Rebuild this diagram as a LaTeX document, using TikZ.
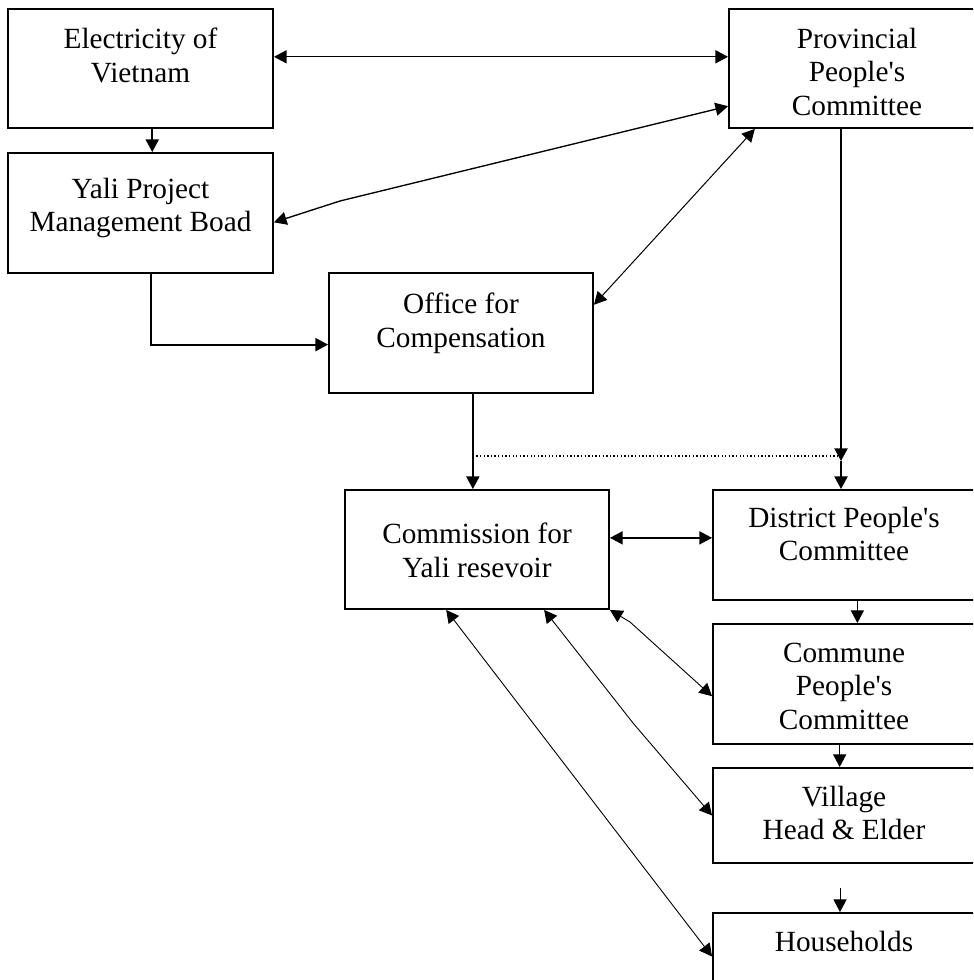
\documentclass[tikz,border=0pt]{standalone}
\usepackage{fontspec}
\setmainfont{Liberation Serif}
\usetikzlibrary{arrows.meta,fit}

\tikzset{
  box/.style={draw, line width=0.85pt, inner sep=0pt},
  lbl/.style={align=center, inner sep=0pt, anchor=north, font=\fontsize{13}{14.9}\selectfont},
  tip/.style={-{Triangle[length=5.6pt,width=5.8pt]}},
  both/.style={{Triangle[length=5.6pt,width=5.8pt]}-{Triangle[length=5.6pt,width=5.8pt]}},
  heavy/.style={line width=0.85pt},
  light/.style={line width=0.45pt},
}

\begin{document}
\begin{tikzpicture}[x=0.444pt,y=-0.444pt]
\useasboundingbox (0,0) rectangle (973,980);
\clip (0,0) rectangle (973,980);

% boxes
\node[box, fit={(8,9) (273,128)}] (evn) {};
\node[box, fit={(8,153) (273,273)}] (ypmb) {};
\node[box, fit={(729,9) (990,128)}] (prov) {};
\node[box, fit={(329,273) (593,393)}] (office) {};
\node[box, fit={(345,490) (609,609)}] (comm) {};
\node[box, fit={(713,490) (990,600)}] (dist) {};
\node[box, fit={(713,624) (990,744)}] (commune) {};
\node[box, fit={(713,768) (990,863)}] (village) {};
\node[box, fit={(713,913) (990,1000)}] (house) {};

\node[lbl] (evnT) at (140.5,27.5) {Electricity of\\Vietnam};
\node[lbl] (ypmbT) at (140.5,177.5) {Yali Project\\Management Boad};
\node[lbl] (provT) at (857,27.5) {Provincial\\People\textquotesingle s\\Committee};
\node[lbl] (officeT) at (461,292.5) {Office for\\Compensation};
\node[lbl] (commT) at (477,522.5) {Commission for\\Yali resevoir};
\node[lbl] (distT) at (844,506.5) {District People\textquotesingle s\\Committee};
\node[lbl] (communeT) at (844,642.5) {Commune\\People\textquotesingle s\\Committee};
\node[lbl] (villageT) at (844,785.5) {Village\\Head \& Elder};
\node[lbl] (houseT) at (844,930.5) {Households};

% connectors
\coordinate (kink1) at (340,201);
\coordinate (kink2) at (633,723);
\coordinate (kink3) at (630,622);
\coordinate (junc) at (841,461);
\coordinate (dotR) at (841,456);
\coordinate (stub) at (840,888);

\draw[both, line width=0.55pt] (evn.5) -- (evn.5 -| prov.west);
\draw[both, line width=0.6pt] (ypmb.-4) -- (kink1) -- (prov.196);
\draw[both, light] (office.12) -- (prov.210);
\draw[tip, heavy] (evn.-79) -- (evn.-79 |- ypmb.north);
\draw[tip, heavy] (ypmb.-80) |- (office.185);
\draw[tip, heavy] (office.-79) -- (office.-79 |- comm.north);
\draw[tip, heavy] (prov.-107) -- (junc);
\draw[tip, heavy] (junc) -- (junc |- dist.north);
\draw[densely dotted, line width=0.6pt] (office.-79 |- dotR) -- (dotR);
\draw[both, line width=0.6pt] (comm.5) -- (comm.5 -| dist.west);
\draw[tip, light] (dist.-84) -- (dist.-84 |- commune.north);
\draw[tip, light] (commune.-101) -- (commune.-101 |- village.north);
\draw[tip, light] (stub) -- (stub |- house.north);
\draw[both, line width=0.4pt] (comm.-117.5) -- (house.180);
\draw[both, line width=0.4pt] (comm.-42.5) -- (kink2) -- (village.180);
\draw[both, line width=0.4pt] (comm.south east) -- (kink3) -- (commune.185);
\end{tikzpicture}
\end{document}
